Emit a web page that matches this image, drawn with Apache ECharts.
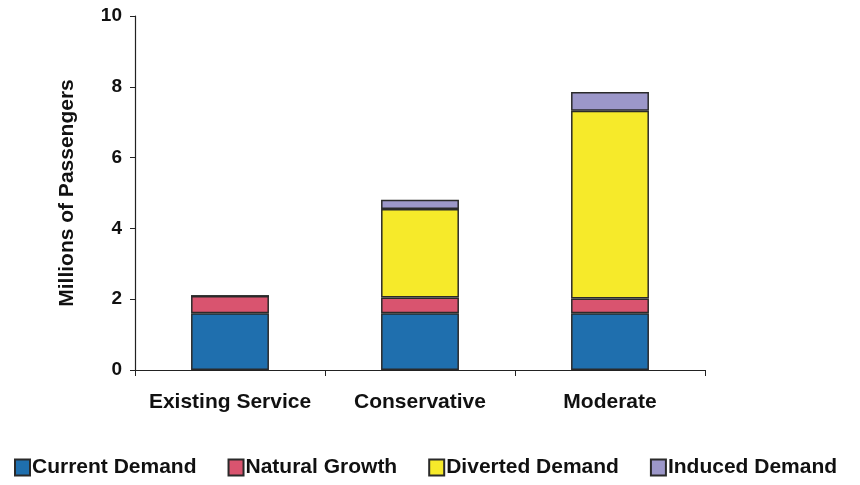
<!DOCTYPE html>
<html>
<head>
<meta charset="utf-8">
<script src="https://cdn.jsdelivr.net/npm/echarts@6/dist/echarts.min.js"></script>
<style>
  html, body { margin: 0; padding: 0; background: #ffffff; }
  #chart { width: 860px; height: 485px; }
</style>
</head>
<body>
<div id="chart"></div>
<script>
var categories = ['Existing Service', 'Conservative', 'Moderate'];
var currentDemand = [1.6, 1.6, 1.6];
var naturalGrowth = [0.49, 0.45, 0.42];
var divertedDemand = [0, 2.5, 5.3];
var inducedDemand = [0, 0.26, 0.53];
var yTicks = [0, 2, 4, 6, 8, 10];

var chart = echarts.init(document.getElementById('chart'));

var labelFont = '"Liberation Sans", Arial, sans-serif';

function stackSeries(name, data, color) {
    return {
        name: name,
        type: 'bar',
        stack: 'total',
        barWidth: '41%',
        data: data,
        itemStyle: {
            color: color,
            borderColor: '#2a2a2a',
            borderWidth: 1.5
        }
    };
}

var option = {
    backgroundColor: '#ffffff',
    textStyle: { fontFamily: labelFont },
    grid: {
        left: 135,
        right: 155,
        top: 16,
        bottom: 115
    },
    legend: {
        bottom: 2,
        left: 9,
        itemWidth: 15,
        itemHeight: 16,
        itemGap: 31,
        icon: 'rect',
        textStyle: {
            color: '#111',
            fontFamily: labelFont,
            fontSize: 21,
            fontWeight: 'bold',
            padding: [0, 0, 0, -3]
        }
    },
    xAxis: {
        type: 'category',
        data: categories,
        axisLine: { lineStyle: { color: '#222', width: 1.2 } },
        axisTick: { show: true, interval: 0, length: 6, lineStyle: { color: '#222' } },
        axisLabel: {
            interval: 0,
            color: '#111',
            fontFamily: labelFont,
            fontSize: 21,
            fontWeight: 'bold',
            margin: 22
        }
    },
    yAxis: {
        type: 'value',
        min: 0,
        max: yTicks[yTicks.length - 1],
        interval: 2,
        name: 'Millions of Passengers',
        nameLocation: 'middle',
        nameGap: 57,
        nameTextStyle: {
            color: '#111',
            fontFamily: labelFont,
            fontSize: 21,
            fontWeight: 'bold'
        },
        axisLine: { show: true, lineStyle: { color: '#222', width: 1.2 } },
        axisTick: { show: true, length: 5, lineStyle: { color: '#222' } },
        splitLine: { show: false },
        axisLabel: {
            color: '#111',
            fontFamily: labelFont,
            fontSize: 19,
            fontWeight: 'bold',
            margin: 13
        }
    },
    series: [
        stackSeries('Current Demand', currentDemand, '#1f6fae'),
        stackSeries('Natural Growth', naturalGrowth, '#d9546f'),
        stackSeries('Diverted Demand', divertedDemand, '#f6ea2a'),
        stackSeries('Induced Demand', inducedDemand, '#9c97c9')
    ]
};

chart.setOption(option);
</script>
</body>
</html>
